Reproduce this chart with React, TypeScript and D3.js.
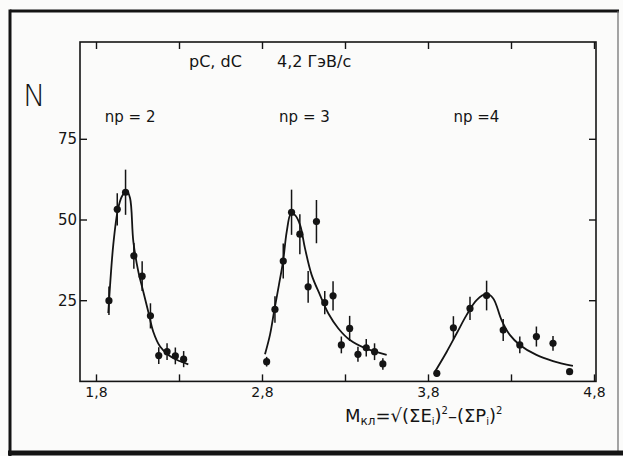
import React from "react";
import * as d3 from "d3";

// ---- data ----
// peak np = 2
const peak2X = [1.875, 1.925, 1.975, 2.025, 2.075, 2.125, 2.175, 2.225, 2.275, 2.325];
const peak2Y = [25.0, 53.3, 58.6, 38.9, 32.6, 20.3, 8.0, 9.2, 7.9, 6.9];
const peak2Err = [4.4, 5.0, 7.0, 4.0, 4.6, 3.9, 2.6, 2.6, 2.6, 2.5];
const fit2X = [1.871, 1.901, 1.928, 1.952, 1.982, 2.002, 2.022, 2.052, 2.082, 2.112, 2.142, 2.183, 2.233, 2.283, 2.353];
const fit2Y = [21.2, 42.3, 53.0, 57.2, 59.0, 56.8, 43.3, 34.0, 27.8, 21.6, 15.4, 10.8, 8.2, 6.7, 5.3];

// peak np = 3
const peak3X = [2.825, 2.875, 2.925, 2.975, 3.025, 3.075, 3.125, 3.175, 3.225, 3.275, 3.325, 3.375, 3.425, 3.475, 3.525];
const peak3Y = [6.1, 22.3, 37.3, 52.4, 45.6, 29.3, 49.5, 24.4, 26.5, 11.3, 16.4, 8.4, 10.4, 9.2, 5.4];
const peak3Err = [1.5, 4.1, 5.4, 7.0, 6.2, 4.9, 6.7, 3.6, 4.5, 2.6, 3.9, 2.3, 2.7, 2.6, 1.8];
const fit3X = [2.815, 2.845, 2.871, 2.899, 2.925, 2.946, 2.972, 2.996, 3.026, 3.056, 3.096, 3.146, 3.196, 3.257, 3.327, 3.418, 3.548];
const fit3Y = [8.4, 14.4, 22.0, 29.9, 37.6, 46.4, 52.0, 51.5, 48.5, 41.2, 33.0, 26.8, 21.1, 16.4, 12.8, 10.3, 8.2];

// peak np = 4
const peak4X = [3.85, 3.95, 4.05, 4.15, 4.25, 4.35, 4.45, 4.55, 4.65];
const peak4Y = [2.5, 16.6, 22.6, 26.6, 15.9, 11.3, 13.9, 11.8, 3.0];
const peak4Err = [1.0, 3.6, 3.6, 4.6, 3.4, 2.6, 3.1, 2.3, 1.0];
const fit4X = [3.839, 3.91, 3.97, 4.03, 4.09, 4.15, 4.19, 4.24, 4.29, 4.35, 4.45, 4.55, 4.67];
const fit4Y = [3.0, 9.2, 14.9, 20.6, 25.2, 27.1, 25.7, 19.0, 14.4, 11.3, 8.2, 6.3, 4.8];

const xMajorTicks = [1.8, 2.8, 3.8, 4.8];
const xMajorLabels = ["1,8", "2,8", "3,8", "4,8"];
const xMinorTicks = [2.3, 3.3, 4.3];
const yTicks = [25, 50, 75];
const yLabels = ["25", "50", "75"];
const groupLabels = ["np = 2", "np = 3", "np =4"];
const groupLabelX = [1.85, 2.9, 3.95];

// ---- layout ----
const W = 623;
const H = 456;
const plot = { left: 80, right: 596, top: 42, bottom: 381.4 };

const x = d3.scaleLinear().domain([1.8, 4.8]).range([96.5, 594.5]);
const y = d3.scaleLinear().domain([0, 25]).range([plot.bottom, plot.bottom - 80.7]);

const INK = "#141414";
const FONT = "'DejaVu Sans', 'Liberation Sans', sans-serif";

type Series = { xs: number[]; ys: number[]; errs: number[]; fx: number[]; fy: number[] };
const series: Series[] = [
  { xs: peak2X, ys: peak2Y, errs: peak2Err, fx: fit2X, fy: fit2Y },
  { xs: peak3X, ys: peak3Y, errs: peak3Err, fx: fit3X, fy: fit3Y },
  { xs: peak4X, ys: peak4Y, errs: peak4Err, fx: fit4X, fy: fit4Y },
];

const line = d3
  .line<[number, number]>()
  .x((d) => x(d[0]))
  .y((d) => y(d[1]))
  .curve(d3.curveCatmullRom.alpha(0.5));

export default function App() {
  const tickLen = 7;
  return (
    <svg
      width={W}
      height={H}
      viewBox={`0 0 ${W} ${H}`}
      style={{ position: "absolute", left: 0, top: 0, background: "#fbfbfa" }}
    >
      <rect x={0} y={0} width={W} height={H} fill="#fbfbfa" />
      {/* outer photo frame */}
      <line x1={10} y1={11} x2={619} y2={11} stroke={INK} strokeWidth={3} />
      <line x1={10} y1={9.5} x2={10} y2={456} stroke={INK} strokeWidth={3} />
      <line x1={618} y1={11} x2={618} y2={452} stroke="#6a6a6a" strokeWidth={1.2} />
      <line x1={8} y1={453} x2={623} y2={453} stroke={INK} strokeWidth={5} />

      {/* plot frame */}
      <rect
        x={plot.left}
        y={plot.top}
        width={plot.right - plot.left}
        height={plot.bottom - plot.top}
        fill="none"
        stroke={INK}
        strokeWidth={1.6}
      />

      {/* x ticks (bottom & top, inward) */}
      {[...xMajorTicks, ...xMinorTicks].map((t, i) => (
        <g key={"xt" + i}>
          <line x1={x(t)} x2={x(t)} y1={plot.bottom} y2={plot.bottom - tickLen} stroke={INK} strokeWidth={1.4} />
          <line x1={x(t)} x2={x(t)} y1={plot.top} y2={plot.top + tickLen} stroke={INK} strokeWidth={1.4} />
        </g>
      ))}
      {xMajorTicks.map((t, i) => (
        <text
          key={"xl" + i}
          x={x(t)}
          y={plot.bottom + 16}
          textAnchor="middle"
          fontFamily={FONT}
          fontSize={14}
          fill={INK}
        >
          {xMajorLabels[i]}
        </text>
      ))}

      {/* y ticks (left & right, inward) */}
      {yTicks.map((t, i) => (
        <g key={"yt" + i}>
          <line x1={plot.left} x2={plot.left + tickLen} y1={y(t)} y2={y(t)} stroke={INK} strokeWidth={1.4} />
          <line x1={plot.right} x2={plot.right - tickLen} y1={y(t)} y2={y(t)} stroke={INK} strokeWidth={1.4} />
          <text
            x={plot.left - 3}
            y={y(t)}
            textAnchor="end"
            dominantBaseline="central"
            fontFamily={FONT}
            fontSize={15}
            fill={INK}
          >
            {yLabels[i]}
          </text>
        </g>
      ))}

      {/* axis titles and annotations */}
      <text x={23} y={106} fontFamily={FONT} fontSize={30} fontWeight={200} fill={INK}>
        N
      </text>
      <text x={189} y={67} fontFamily={FONT} fontSize={16} fill={INK}>
        pC, dC
      </text>
      <text x={277} y={67} fontFamily={FONT} fontSize={16} fill={INK}>
        4,2 ГэВ/с
      </text>
      {groupLabels.map((g, i) => (
        <text
          key={"gl" + i}
          x={x(groupLabelX[i])}
          y={122}
          fontFamily={FONT}
          fontSize={15}
          fill={INK}
        >
          {g}
        </text>
      ))}
      <text x={345} y={422} fontFamily={FONT} fontSize={18} fill={INK}>
        M
        <tspan fontSize={12} dy={3}>кл</tspan>
        <tspan dy={-3}>=√(ΣE</tspan>
        <tspan fontSize={10} dy={3}>i</tspan>
        <tspan dy={-3}>)</tspan>
        <tspan fontSize={10} dy={-8}>2</tspan>
        <tspan dy={8}>–(ΣP</tspan>
        <tspan fontSize={10} dy={3}>i</tspan>
        <tspan dy={-3}>)</tspan>
        <tspan fontSize={10} dy={-8}>2</tspan>
      </text>

      {/* data */}
      {series.map((s, si) => (
        <g key={"s" + si}>
          <path
            d={line(s.fx.map((v, i) => [v, s.fy[i]] as [number, number])) || ""}
            fill="none"
            stroke={INK}
            strokeWidth={1.8}
          />
          {s.xs.map((v, i) => (
            <g key={"p" + i}>
              <line
                x1={x(v)}
                x2={x(v)}
                y1={y(s.ys[i] - s.errs[i])}
                y2={y(s.ys[i] + s.errs[i])}
                stroke={INK}
                strokeWidth={1.5}
              />
              <circle cx={x(v)} cy={y(s.ys[i])} r={3.6} fill={INK} />
            </g>
          ))}
        </g>
      ))}
    </svg>
  );
}
